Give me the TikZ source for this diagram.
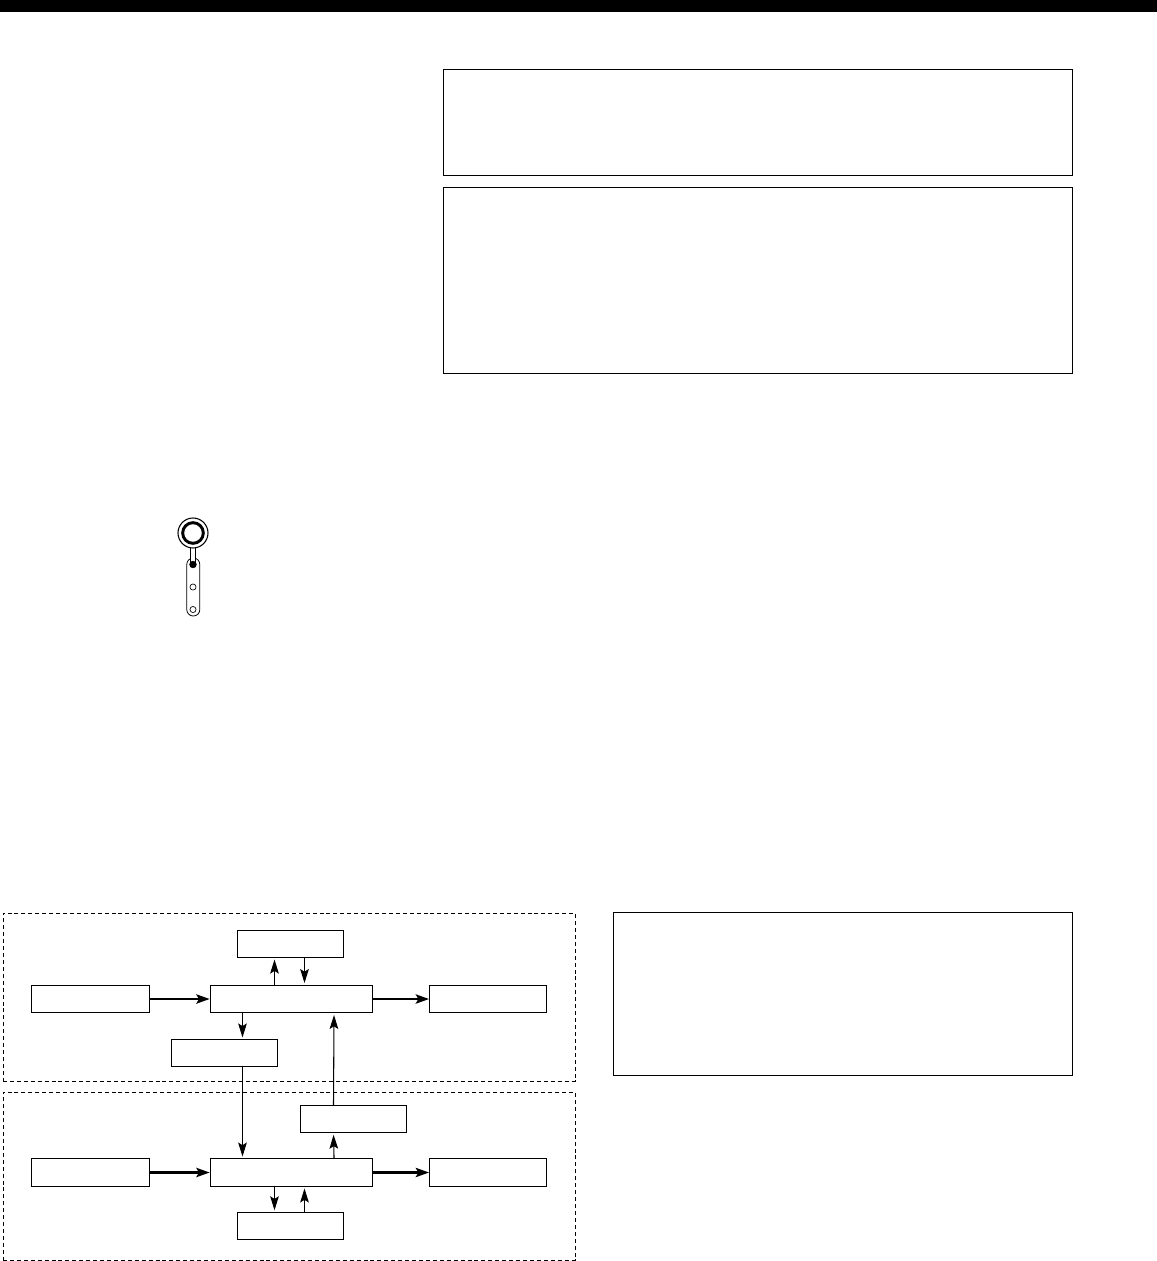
\documentclass[tikz,border=0pt]{standalone}
\usepackage{xcolor}
\usetikzlibrary{arrows.meta,positioning}
\tikzset{
  flow/.style={-{Stealth[length=10pt,width=7pt,inset=2pt]},line width=1.6pt},
  thinflow/.style={-{Stealth[length=10.5pt,width=6.5pt,inset=2pt]},line width=.8pt,shorten >=1.2pt},
  panel/.style={draw,line width=.8pt,inner sep=0pt},
  blockbox/.style={panel,minimum width=79.5pt,minimum height=20.25pt},
  portbox/.style={panel,minimum width=88pt,minimum height=20.75pt},
  mainbox/.style={panel,minimum width=122pt,minimum height=20.75pt},
  group/.style={draw,line width=.7pt,dash pattern=on 3pt off 2.2pt,inner sep=0pt,
                minimum width=429pt,minimum height=126pt},
  holedot/.style={circle,draw,line width=.5pt,minimum size=4.6pt,inner sep=0pt,fill=white}
}
\begin{document}
\begin{tikzpicture}[x=.75pt,y=-.75pt]
  \useasboundingbox (0,0) rectangle (1157,1261);
  \fill (0,0) rectangle (1157,12);
  % top right panels
  \node[panel,minimum width=471.75pt,minimum height=79.5pt] (note1) at (758,122.5) {};
  \node[panel,minimum width=471.75pt,minimum height=139.5pt,below=8.25pt of note1] (note2) {};
  \node[panel,minimum width=344.25pt,minimum height=122.25pt] (note3) at (843,994) {};
  % dashed regions
  \node[group] (regA) at (289,997) {};
  \node[group] (regB) at (289,1176) {};
  % upper row
  \node[mainbox] (mainA) at (291.5,999) {};
  \node[portbox,left=45pt of mainA] (inA) {};
  \node[portbox,right=41.75pt of mainA] (outA) {};
  \node[blockbox,above=20pt of mainA,xshift=-.75pt] (topA) {};
  \node[blockbox,below=19.25pt of mainA,xshift=-50.25pt] (sideA) {};
  % lower row
  \node[mainbox] (mainB) at (291.5,1172.5) {};
  \node[portbox,left=45pt of mainB] (inB) {};
  \node[portbox,right=41.75pt of mainB] (outB) {};
  \node[blockbox,below=18.75pt of mainB,xshift=-.75pt] (botB) {};
  \node[blockbox,above=18.75pt of mainB,xshift=46.5pt] (sideB) {};
  \draw[flow] (inA)--(mainA); \draw[flow] (mainA)--(outA);
  \draw[flow] (inB)--(mainB); \draw[flow] (mainB)--(outB);
  \draw[thinflow] ([xshift=-12.75pt]mainA.north)--([xshift=-12pt]topA.south);
  \draw[thinflow] ([xshift=10.5pt]topA.south)--([xshift=9.75pt]mainA.north);
  \draw[thinflow] ([xshift=-36.75pt]mainA.south)--([xshift=13.5pt]sideA.north);
  \draw[thinflow] ([xshift=13.5pt]sideA.south)--([xshift=-36.75pt]mainB.north);
  \draw[thinflow] ([xshift=31.9pt]mainB.north)--([xshift=-15pt]sideB.south);
  \draw[thinflow] ([xshift=-15pt]sideB.north)--([xshift=31.9pt]mainA.south);
  \draw[thinflow] ([xshift=-12.75pt]mainB.south)--([xshift=-12pt]botB.north);
  \draw[thinflow] ([xshift=10.5pt]botB.north)--([xshift=9.75pt]mainB.south);
  % switch icon
  \draw[line width=.6pt,rounded corners=4.8pt,fill=white] (186.8,558) rectangle (199.8,616);
  \draw[line width=.5pt,fill=white] (190.4,545) rectangle (195.8,561);
  \fill[white] (191,545) rectangle (195.2,562);
  \node[circle,draw,line width=.8pt,minimum size=22.5pt,inner sep=0pt,fill=white] (knob) at (193,533) {};
  \node[circle,draw,line width=2.2pt,minimum size=15.5pt,inner sep=0pt] (knobin) at (knob) {};
  \node[holedot,fill=black,minimum size=5pt] (posA) at (193,564.5) {};
  \node[holedot] (posB) at (193,587) {};
  \node[holedot] (posC) at (193,609.5) {};
\end{tikzpicture}
\end{document}
